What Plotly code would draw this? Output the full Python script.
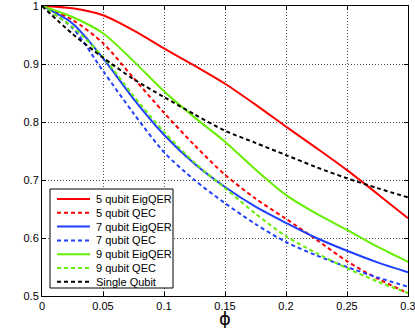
import plotly.graph_objects as go

phi = [0.0, 0.025, 0.05, 0.075, 0.1, 0.125, 0.15, 0.175, 0.2, 0.225, 0.25, 0.275, 0.3]

eig5 = [1.0, 0.996, 0.984, 0.958, 0.927, 0.897, 0.866, 0.830, 0.792, 0.755, 0.717, 0.676, 0.634]
qec5 = [1.0, 0.976, 0.936, 0.876, 0.816, 0.760, 0.709, 0.668, 0.633, 0.597, 0.560, 0.530, 0.505]
eig7 = [1.0, 0.970, 0.910, 0.840, 0.778, 0.728, 0.688, 0.654, 0.626, 0.600, 0.578, 0.558, 0.541]
qec7 = [1.0, 0.962, 0.888, 0.815, 0.748, 0.700, 0.660, 0.624, 0.593, 0.570, 0.550, 0.532, 0.516]
eig9 = [1.0, 0.981, 0.953, 0.905, 0.853, 0.808, 0.766, 0.718, 0.674, 0.642, 0.614, 0.585, 0.559]
qec9 = [1.0, 0.964, 0.912, 0.845, 0.783, 0.730, 0.686, 0.642, 0.603, 0.574, 0.548, 0.525, 0.505]
single = [1.0, 0.952, 0.911, 0.874, 0.843, 0.813, 0.785, 0.764, 0.743, 0.722, 0.703, 0.686, 0.670]

names = ["5 qubit EigQER", "5 qubit QEC", "7 qubit EigQER", "7 qubit QEC",
         "9 qubit EigQER", "9 qubit QEC", "Single Qubit"]
series = [eig5, qec5, eig7, qec7, eig9, qec9, single]
colors = ["#ff0000", "#ff0000", "#2040ff", "#2040ff", "#66ee00", "#66ee00", "#000000"]
dashes = ["solid", "4px,3px", "solid", "4px,3px", "solid", "4px,3px", "4px,3px"]

xticks = [0, 0.05, 0.1, 0.15, 0.2, 0.25, 0.3]
xticklabels = ["0", "0.05", "0.1", "0.15", "0.2", "0.25", "0.3"]
yticks = [0.5, 0.6, 0.7, 0.8, 0.9, 1.0]
yticklabels = ["0.5", "0.6", "0.7", "0.8", "0.9", "1"]

W, H = 415, 328
ML, MR, MT, MB = 42, 7, 6, 32
PW, PH = W - ML - MR, H - MT - MB

def px_x(p):
    return (p - ML) / PW

def px_y(p):
    return (H - MB - p) / PH

fig = go.Figure()
for n, s, c, d in zip(names, series, colors, dashes):
    fig.add_trace(go.Scatter(x=phi, y=s, mode="lines", name=n, showlegend=False,
                             line=dict(color=c, width=2, dash=d, shape="spline", smoothing=0.8)))

FONT = "Liberation Sans, Arial, sans-serif"

# legend box drawn as decoration (matches the compact MATLAB-style legend)
shapes = [dict(type="rect", xref="paper", yref="paper",
               x0=px_x(50), x1=px_x(173), y0=px_y(288), y1=px_y(189),
               line=dict(color="black", width=1), fillcolor="white", layer="above")]
annotations = []
for i, (n, c, d) in enumerate(zip(names, colors, dashes)):
    yc = 199 + i * 13.8
    shapes.append(dict(type="line", xref="paper", yref="paper",
                       x0=px_x(57), x1=px_x(90), y0=px_y(yc), y1=px_y(yc),
                       line=dict(color=c, width=2, dash=d), layer="above"))
    annotations.append(dict(text=n, xref="paper", yref="paper", x=px_x(94), y=px_y(yc),
                            xanchor="left", yanchor="middle", showarrow=False,
                            font=dict(family=FONT, size=11, color="black")))

annotations.append(dict(text="ϕ", xref="paper", yref="paper", x=0.5, y=px_y(318),
                        xanchor="center", yanchor="middle", showarrow=False,
                        font=dict(family="DejaVu Sans", size=18, color="black")))

axis_common = dict(showline=True, linecolor="black", linewidth=1, mirror="ticks",
                   ticks="inside", ticklen=4, tickcolor="black", automargin=False,
                   ticklabeloverflow="allow",
                   showgrid=True, gridcolor="rgba(60,60,60,0.9)", griddash="1px,2px", gridwidth=1,
                   zeroline=False, tickfont=dict(family=FONT, size=11, color="black"))

fig.update_layout(
    width=W, height=H,
    margin=dict(l=ML, r=MR, t=MT, b=MB),
    paper_bgcolor="white", plot_bgcolor="white",
    showlegend=False,
    shapes=shapes, annotations=annotations,
    xaxis=dict(range=[0, 0.3], tickvals=xticks, ticktext=xticklabels, **axis_common),
    yaxis=dict(range=[0.5, 1.0], tickvals=yticks, ticktext=yticklabels, **axis_common),
)

fig.write_html("out.html", config={"displayModeBar": False},
               post_script="document.body.style.margin='0px';document.body.style.overflow='hidden';")
